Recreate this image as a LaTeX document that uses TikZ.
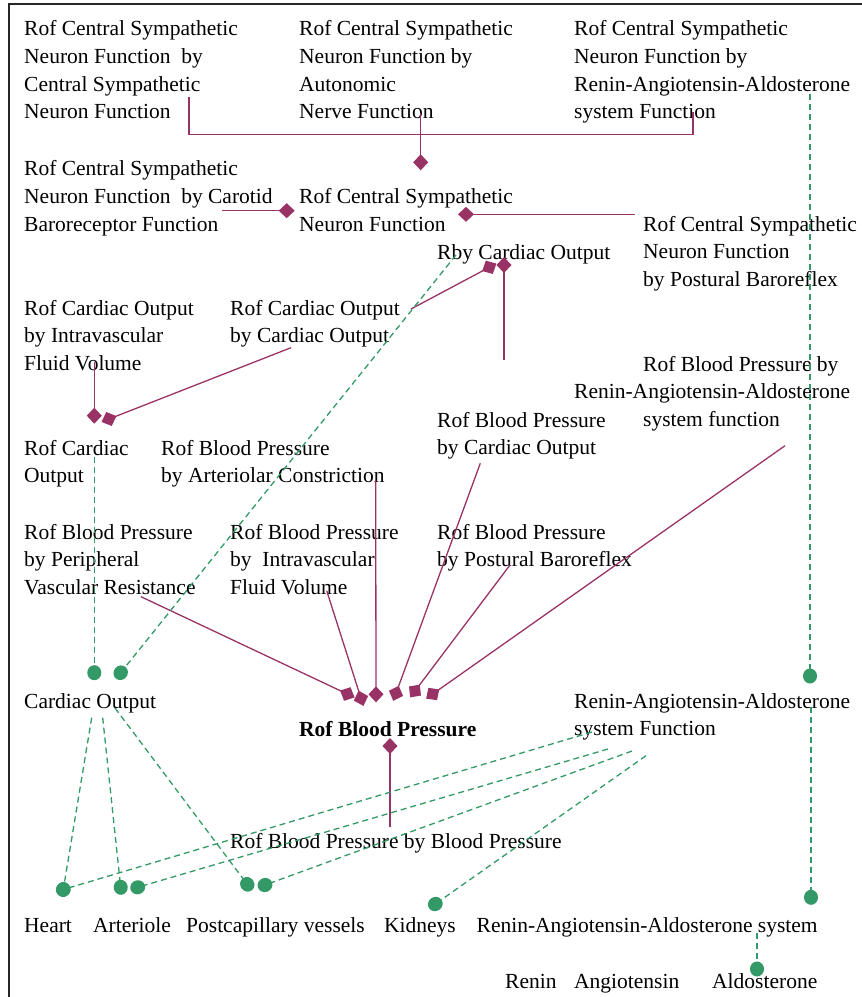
\documentclass[tikz,border=0pt]{standalone}
\usepackage{fontspec}
\setmainfont{Liberation Serif}
\usetikzlibrary{arrows.meta}
\definecolor{mag}{RGB}{153,51,102}
\definecolor{grn}{RGB}{51,153,102}
\begin{document}
\begin{tikzpicture}[x=1pt,y=-1pt,
  lbl/.style={anchor=base west, inner sep=0pt, align=left, font=\fontsize{21.5}{27.8}\selectfont},
  magline/.style={draw=mag, line width=1.3pt},
  dia/.style={magline, -{Diamond[length=16pt,width=15pt,fill=mag]}, shorten >=-8pt},
  grnline/.style={draw=grn, line width=1.3pt, dash pattern=on 6pt off 4pt},
  dot/.style={grnline, -{Circle[length=15pt,width=14pt,fill=grn]}, shorten >=-7.5pt}
]
\useasboundingbox (0,0) rectangle (862,997);
\draw[line width=1.3pt, black!85] (9,997) -- (9,4) -- (862,4);

% text nodes (anchored at the baseline of their last line)
\node[lbl] (a1) at (24,118.9) {Rof Central Sympathetic\\Neuron Function\ \ by\\Central Sympathetic\\Neuron Function};
\node[lbl] (a2) at (299,118.9) {Rof Central Sympathetic\\Neuron Function by\\Autonomic\\Nerve Function};
\node[lbl] (a3) at (574,118.9) {Rof Central Sympathetic\\Neuron Function by\\Renin-Angiotensin-Aldosterone\\system Function};
\node[lbl] (b1) at (24,231.1) {Rof Central Sympathetic\\Neuron Function\ \ by Carotid\\Baroreceptor Function};
\node[lbl] (b2) at (299,231.1) {Rof Central Sympathetic\\Neuron Function};
\node[lbl] (b3) at (643,286.6) {Rof Central Sympathetic\\Neuron Function\\by Postural Baroreflex};
\node[lbl] (c) at (437,259) {Rby Cardiac Output};
\node[lbl] (d1) at (24,370.6) {Rof Cardiac Output\\by Intravascular\\Fluid Volume};
\node[lbl] (d2) at (230,342.8) {Rof Cardiac Output\\by Cardiac Output};
\node[lbl] (e) at (643,426.6) {Rof Blood Pressure by\\\hspace*{-69pt}Renin-Angiotensin-Aldosterone\\system function};
\node[lbl] (f1) at (24,482.8) {Rof Cardiac\\Output};
\node[lbl] (f2) at (161,482.8) {Rof Blood Pressure\\by Arteriolar Constriction};
\node[lbl] (f3) at (437,454.8) {Rof Blood Pressure\\by Cardiac Output};
\node[lbl] (g1) at (24,594.6) {Rof Blood Pressure\\by Peripheral\\Vascular Resistance};
\node[lbl] (g2) at (230,594.6) {Rof Blood Pressure\\by\ \ Intravascular\\Fluid Volume};
\node[lbl] (g3) at (437,566.8) {Rof Blood Pressure\\by Postural Baroreflex};
\node[lbl] (h1) at (24,708) {Cardiac Output};
\node[lbl,font=\fontsize{21.5}{27.8}\selectfont\bfseries] (h2) at (299,736) {Rof Blood Pressure};
\node[lbl] (h3) at (574,735.8) {Renin-Angiotensin-Aldosterone\\system Function};
\node[lbl] (i) at (230,848) {Rof Blood Pressure by Blood Pressure};
\node[lbl] (heart) at (24,932) {Heart};
\node[lbl] (arter) at (93,932) {Arteriole};
\node[lbl] (post) at (186,932) {Postcapillary vessels};
\node[lbl] (kid) at (384,932) {Kidneys};
\node[lbl] (raas) at (476.5,932) {Renin-Angiotensin-Aldosterone system};
\node[lbl] (renin) at (505,988) {Renin};
\node[lbl] (angio) at (574,988) {Angiotensin};
\node[lbl] (aldo) at (712,988) {Aldosterone};

% connector end points
\coordinate (a1s) at (189,97);
\coordinate (j1) at (693,134.7);
\coordinate (a3s) at (693,112);
\coordinate (a2s) at (420.7,113);
\coordinate (b2t) at (420.7,162.3);
\coordinate (b1s) at (222,210.7);
\coordinate (b2l) at (286.7,210.7);
\coordinate (b3s) at (635,214.3);
\coordinate (b2r) at (466,214.3);
\coordinate (d2s) at (411,309);
\coordinate (c1) at (489.3,267.3);
\coordinate (cs) at (504,360);
\coordinate (c2) at (504,265);
\coordinate (d1s) at (94.3,361.7);
\coordinate (f1a) at (94.3,415.7);
\coordinate (d2s2) at (291,347.7);
\coordinate (f1b) at (109,419);
\coordinate (cg) at (456,255);
\coordinate (h1b2) at (120.7,672.7);
\coordinate (f1s) at (94.3,456.7);
\coordinate (h1b1) at (94.3,672.7);
\coordinate (g1s) at (141,596.7);
\coordinate (g2s) at (326.7,590.7);
\coordinate (f2s) at (375.7,480);
\coordinate (f3s) at (480.3,463.3);
\coordinate (g3s) at (510,565);
\coordinate (es) at (785,445.7);
\coordinate (is) at (390,827);
\coordinate (p1) at (347.3,694);
\coordinate (p2) at (361,698.3);
\coordinate (p3) at (376,694.3);
\coordinate (p4) at (396,693.3);
\coordinate (p5) at (415,691);
\coordinate (p6) at (432.7,694);
\coordinate (p7) at (390,746);
\coordinate (h1a) at (91.7,717.7);
\coordinate (h1c) at (102.7,717.7);
\coordinate (h1d) at (115,708);
\coordinate (h3a) at (592,732);
\coordinate (h3b) at (608,749);
\coordinate (h3c) at (632,751);
\coordinate (h3d) at (646,755.7);
\coordinate (a3g) at (810,94.3);
\coordinate (h3t) at (810,676);
\coordinate (h3e) at (811,706.7);
\coordinate (raast) at (811,897.3);
\coordinate (raass) at (757,932.7);
\coordinate (aldot) at (757,969);
\coordinate (heartt) at (63.3,889.5);
\coordinate (artert1) at (120.7,887.3);
\coordinate (artert2) at (137.7,887.3);
\coordinate (postt1) at (247.3,884.3);
\coordinate (postt2) at (265,885);
\coordinate (kidt) at (435.3,904);

% magenta connectors
\draw[magline] (a1s) |- (j1) -- (a3s);
\draw[dia] (a2s) -- (b2t);
\draw[dia] (b1s) -- (b2l);
\draw[dia] (b3s) -- (b2r);
\draw[dia] (d2s) -- (c1);
\draw[dia] (cs) -- (c2);
\draw[dia] (d1s) -- (f1a);
\draw[dia] (d2s2) -- (f1b);
\draw[dia] (g1s) -- (p1);
\draw[dia] (g2s) -- (p2);
\draw[dia] (f2s) -- (p3);
\draw[dia] (f3s) -- (p4);
\draw[dia] (g3s) -- (p5);
\draw[dia] (es) -- (p6);
\draw[dia] (is) -- (p7);

% green connectors
\draw[dot] (cg) -- (h1b2);
\draw[dot] (f1s) -- (h1b1);
\draw[dot] (h1a) -- (heartt);
\draw[dot] (h1c) -- (artert1);
\draw[dot] (h1d) -- (postt1);
\draw[dot] (h3a) -- (heartt);
\draw[dot] (h3b) -- (artert2);
\draw[dot] (h3c) -- (postt2);
\draw[dot] (h3d) -- (kidt);
\draw[dot] (a3g) -- (h3t);
\draw[dot] (h3e) -- (raast);
\draw[dot] (raass) -- (aldot);
\end{tikzpicture}
\end{document}
